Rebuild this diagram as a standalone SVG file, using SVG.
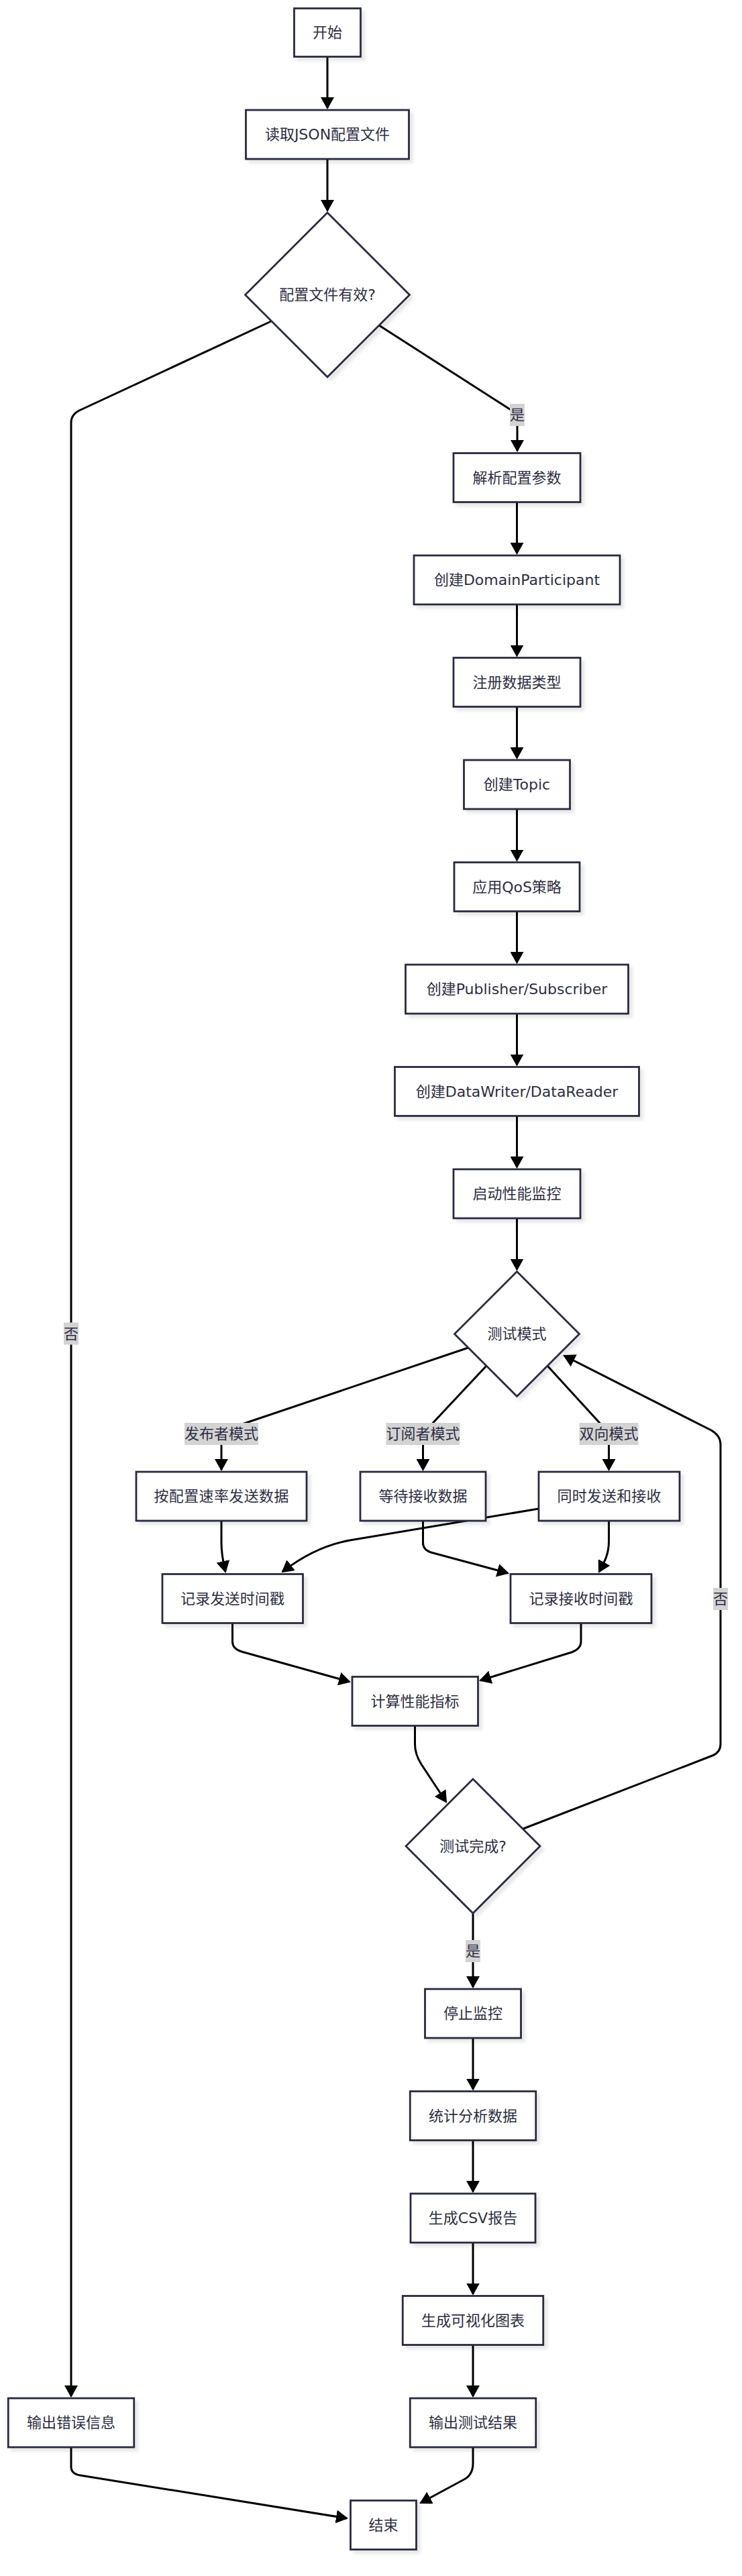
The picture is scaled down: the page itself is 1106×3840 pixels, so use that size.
<svg xmlns="http://www.w3.org/2000/svg" width="1106" height="3840" viewBox="0 0 1106 3840">
<style>
.bg{fill:#ffffff}
.node rect,.node polygon{fill:#ffffff;stroke:#2b2b3f;stroke-width:2.8;filter:url(#shadow)}
.node text,.lbl text{font-family:"DejaVu Sans","Noto Sans CJK SC",sans-serif;font-size:22px;fill:#2e2e42;text-anchor:middle;dominant-baseline:central}
.edge{fill:none;stroke:#000000;stroke-width:3;marker-end:url(#arrow)}
.lbl rect{fill:#d3d3d3}
</style>
<defs>
<marker id="arrow" viewBox="0 0 18 20" refX="16" refY="10" markerWidth="18" markerHeight="20" markerUnits="userSpaceOnUse" orient="auto">
<path d="M0,0 L18,10 L0,20 z" fill="#000000"/>
</marker>
<filter id="shadow" x="-10%" y="-10%" width="130%" height="130%">
<feDropShadow dx="5" dy="5" stdDeviation="2" flood-color="#000000" flood-opacity="0.09"/>
</filter>
</defs>
<rect class="bg" x="0" y="0" width="1106" height="3840"/>
<g id="connectors">
<path class="edge" d="M488,85 L488,161"/>
<path class="edge" d="M488,237 L488,314"/>
<path class="edge" d="M565,485 L763,612 Q771,617 771,627 L771,672"/>
<path class="edge" d="M404,479 L118,612 Q106,618 106,630 L106,3572"/>
<path class="edge" d="M770.5,748.5 L770.5,825"/>
<path class="edge" d="M770.5,901 L770.5,977.5"/>
<path class="edge" d="M770.5,1053.5 L770.5,1130"/>
<path class="edge" d="M770.5,1206 L770.5,1282.5"/>
<path class="edge" d="M770.5,1358.5 L770.5,1435"/>
<path class="edge" d="M770.5,1511 L770.5,1587.5"/>
<path class="edge" d="M770.5,1663.5 L770.5,1740"/>
<path class="edge" d="M770.5,1816 L770.5,1892.5"/>
<path class="edge" d="M698,2009 L340,2130 Q330,2133 330,2143 L330,2191"/>
<path class="edge" d="M725,2036 L637,2130 Q630.5,2138 630.5,2148 L630.5,2191"/>
<path class="edge" d="M816,2036 L901,2129 Q907.5,2137 907.5,2147 L907.5,2191"/>
<path class="edge" d="M330,2267 L330,2300 C330,2318 333,2330 336,2343"/>
<path class="edge" d="M803,2249 L522,2296 Q470,2305 421,2343"/>
<path class="edge" d="M630.5,2267 L630.5,2300 Q630.5,2310 642,2314 L757,2345"/>
<path class="edge" d="M907.5,2267 L907.5,2298 C907.5,2318 900,2330 893,2343"/>
<path class="edge" d="M346.5,2419.5 L346.5,2447 Q346.5,2458 360,2462 L521,2507"/>
<path class="edge" d="M866,2419.5 L866,2447 Q866,2458 852,2463 L716,2505"/>
<path class="edge" d="M618.5,2572.5 L618.5,2600 Q618.5,2615 628,2630 L665,2686"/>
<path class="edge" d="M780,2726 L1062,2617 Q1074,2612 1074,2600 L1074,2153 Q1074,2140 1060,2132 L841,2021"/>
<path class="edge" d="M705,2852 L705,2962"/>
<path class="edge" d="M705,3038 L705,3114.5"/>
<path class="edge" d="M705,3190.5 L705,3267"/>
<path class="edge" d="M705,3343 L705,3419.5"/>
<path class="edge" d="M705,3496 L705,3572"/>
<path class="edge" d="M705,3648 L705,3672 Q705,3690 690,3697 L627,3731"/>
<path class="edge" d="M106,3648 L106,3677 Q106,3688 120,3690 L517,3754"/>
</g>
<g id="edge-labels">
<g class="lbl" id="lbl-yes1"><rect x="760" y="602" width="22" height="33"/><text x="771" y="618.5">是</text></g>
<g class="lbl" id="lbl-no1"><rect x="95" y="1971.5" width="22" height="33"/><text x="106" y="1988">否</text></g>
<g class="lbl" id="lbl-pub"><rect x="275" y="2121" width="110" height="33"/><text x="330" y="2137.5">发布者模式</text></g>
<g class="lbl" id="lbl-sub"><rect x="575.5" y="2121" width="110" height="33"/><text x="630.5" y="2137.5">订阅者模式</text></g>
<g class="lbl" id="lbl-bi"><rect x="863.5" y="2121" width="88" height="33"/><text x="907.5" y="2137.5">双向模式</text></g>
<g class="lbl" id="lbl-no2"><rect x="1063" y="2367" width="22" height="33"/><text x="1074" y="2383.5">否</text></g>
<g class="lbl" id="lbl-yes2"><rect x="694" y="2892" width="22" height="33"/><text x="705" y="2908.5">是</text></g>
</g>
<g class="node" id="n-start"><rect x="438.5" y="12.5" width="99" height="72"/><text x="488" y="48.5">开始</text></g>
<g class="node" id="n-read"><rect x="366.5" y="164" width="243" height="73"/><text x="488" y="200.5">读取JSON配置文件</text></g>
<g class="node" id="n-valid"><polygon points="488,317 610.5,439.5 488,562 365.5,439.5"/><text x="488" y="439.5">配置文件有效?</text></g>
<g class="node" id="n-parse"><rect x="676" y="675.5" width="189" height="73"/><text x="770.5" y="712">解析配置参数</text></g>
<g class="node" id="n-dp"><rect x="617" y="828" width="307" height="73"/><text x="770.5" y="864.5">创建DomainParticipant</text></g>
<g class="node" id="n-reg"><rect x="676" y="980.5" width="189" height="73"/><text x="770.5" y="1017">注册数据类型</text></g>
<g class="node" id="n-topic"><rect x="691.5" y="1133" width="158" height="73"/><text x="770.5" y="1169.5">创建Topic</text></g>
<g class="node" id="n-qos"><rect x="677" y="1285.5" width="187" height="73"/><text x="770.5" y="1322">应用QoS策略</text></g>
<g class="node" id="n-pubsub"><rect x="604.5" y="1438" width="332" height="73"/><text x="770.5" y="1474.5">创建Publisher/Subscriber</text></g>
<g class="node" id="n-dwdr"><rect x="588.5" y="1590.5" width="364" height="73"/><text x="770.5" y="1627">创建DataWriter/DataReader</text></g>
<g class="node" id="n-monitor"><rect x="676" y="1743" width="189" height="73"/><text x="770.5" y="1779.5">启动性能监控</text></g>
<g class="node" id="n-mode"><polygon points="770.5,1895.5 863.5,1988.5 770.5,2081.5 677.5,1988.5"/><text x="770.5" y="1988.5">测试模式</text></g>
<g class="node" id="n-pub"><rect x="203" y="2194" width="254" height="73"/><text x="330" y="2230.5" textLength="201" lengthAdjust="spacing">按配置速率发送数据</text></g>
<g class="node" id="n-sub"><rect x="537" y="2194" width="187" height="73"/><text x="630.5" y="2230.5">等待接收数据</text></g>
<g class="node" id="n-bi"><rect x="803" y="2194" width="210" height="73"/><text x="908" y="2230.5" textLength="155" lengthAdjust="spacing">同时发送和接收</text></g>
<g class="node" id="n-sendts"><rect x="242" y="2346.5" width="209.5" height="73"/><text x="346.5" y="2383" textLength="155" lengthAdjust="spacing">记录发送时间戳</text></g>
<g class="node" id="n-recvts"><rect x="761" y="2346.5" width="210" height="73"/><text x="866" y="2383" textLength="155" lengthAdjust="spacing">记录接收时间戳</text></g>
<g class="node" id="n-calc"><rect x="525" y="2499.5" width="187.5" height="73"/><text x="618.5" y="2536">计算性能指标</text></g>
<g class="node" id="n-done"><polygon points="705,2652 805,2752 705,2852 605,2752"/><text x="705" y="2752">测试完成?</text></g>
<g class="node" id="n-stop"><rect x="633.5" y="2965" width="143" height="73"/><text x="705" y="3001.5">停止监控</text></g>
<g class="node" id="n-stats"><rect x="611.25" y="3117.5" width="187.5" height="73"/><text x="705" y="3154">统计分析数据</text></g>
<g class="node" id="n-csv"><rect x="612" y="3270" width="186" height="73"/><text x="705" y="3306.5">生成CSV报告</text></g>
<g class="node" id="n-chart"><rect x="600.25" y="3422.5" width="209.5" height="73"/><text x="705" y="3459">生成可视化图表</text></g>
<g class="node" id="n-output"><rect x="611.25" y="3575" width="187.5" height="73"/><text x="705" y="3611.5">输出测试结果</text></g>
<g class="node" id="n-error"><rect x="12.25" y="3575" width="187.5" height="73"/><text x="106" y="3611.5">输出错误信息</text></g>
<g class="node" id="n-end"><rect x="522.5" y="3727.5" width="98" height="73"/><text x="571.5" y="3764">结束</text></g>
</svg>
